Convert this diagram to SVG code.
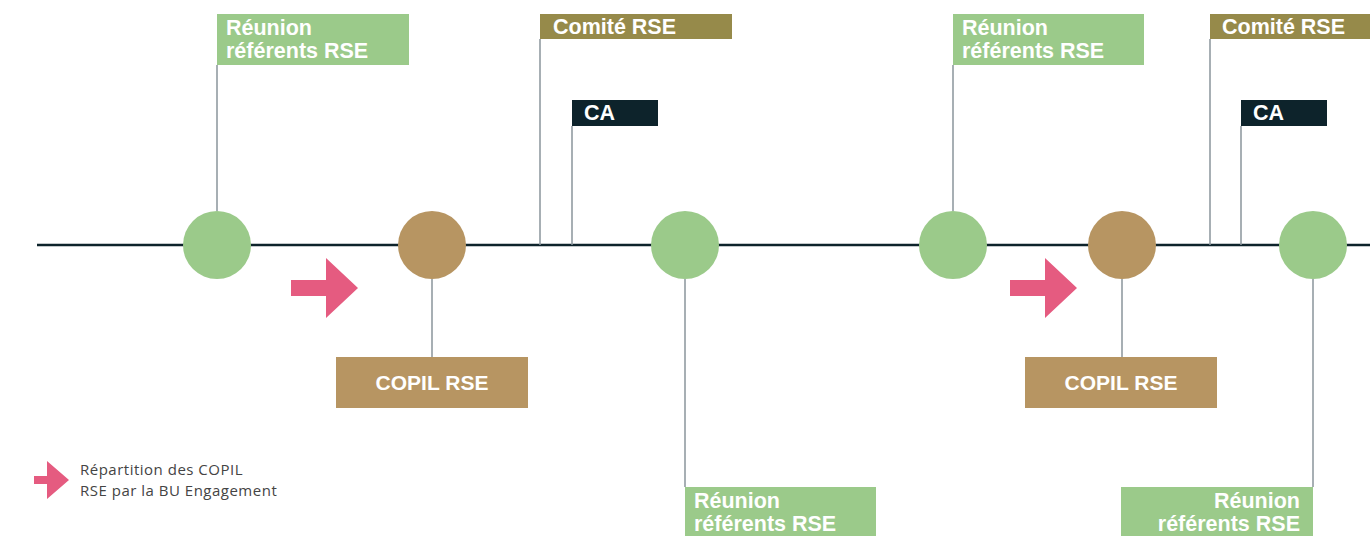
<svg xmlns="http://www.w3.org/2000/svg" width="1370" height="536" viewBox="0 0 1370 536">
<style>
.lbl{font-family:"Liberation Sans",Arial,sans-serif;font-weight:bold;font-size:21.5px;fill:#ffffff}
.cp{font-size:21px}
.leg{font-family:"Open Sans",Lato,sans-serif;font-size:15px;letter-spacing:0.5px;fill:#444444}
.stem{stroke:#8a959b;stroke-width:1.5;fill:none}
.green{fill:#9bca8a}
.tan{fill:#b79562}
.olive{fill:#968a4a}
.dark{fill:#0d232b}
.pink{fill:#e55b80}
</style>
<defs>
<polygon id="arr" points="0,-8 35,-8 35,-30 67,0 35,30 35,8 0,8"/>
</defs>
<rect width="1370" height="536" fill="#ffffff"/>
<g id="connectors">
<line x1="37" y1="245" x2="1370" y2="245" stroke="#0d232b" stroke-width="2.5"/>
<line class="stem" x1="217" y1="65" x2="217" y2="211"/>
<line class="stem" x1="540" y1="39" x2="540" y2="245"/>
<line class="stem" x1="572" y1="126" x2="572" y2="245"/>
<line class="stem" x1="432" y1="279" x2="432" y2="357"/>
<line class="stem" x1="685" y1="279" x2="685" y2="487"/>
<line class="stem" x1="953" y1="65" x2="953" y2="211"/>
<line class="stem" x1="1210" y1="39" x2="1210" y2="245"/>
<line class="stem" x1="1241" y1="126" x2="1241" y2="245"/>
<line class="stem" x1="1122" y1="279" x2="1122" y2="357"/>
<line class="stem" x1="1313" y1="279" x2="1313" y2="487" stroke="#2a3a40"/>
</g>
<g id="circles">
<circle class="green" cx="217" cy="245" r="34"/>
<circle class="tan" cx="432" cy="245" r="34"/>
<circle class="green" cx="685" cy="245" r="34"/>
<circle class="green" cx="953" cy="245" r="34"/>
<circle class="tan" cx="1122" cy="245" r="34"/>
<circle class="green" cx="1313" cy="245" r="34"/>
</g>
<g id="arrows">
<use href="#arr" class="pink" x="291" y="288"/>
<use href="#arr" class="pink" x="1010" y="288"/>
</g>
<g id="reunion1">
<rect class="green" x="217" y="14" width="192" height="51"/>
<text class="lbl" x="226" y="35">Réunion</text>
<text class="lbl" x="226" y="58">référents RSE</text>
</g>
<g id="comite1">
<rect class="olive" x="540" y="14" width="192" height="25"/>
<text class="lbl" x="553" y="34">Comité RSE</text>
</g>
<g id="ca1">
<rect class="dark" x="572" y="100" width="86" height="26"/>
<text class="lbl" x="584" y="120">CA</text>
</g>
<g id="copil1">
<rect class="tan" x="336" y="357" width="192" height="51"/>
<text class="lbl cp" x="432" y="390" text-anchor="middle">COPIL RSE</text>
</g>
<g id="reunion2">
<rect class="green" x="685" y="487" width="191" height="49"/>
<text class="lbl" x="694" y="508">Réunion</text>
<text class="lbl" x="694" y="531">référents RSE</text>
</g>
<g id="reunion3">
<rect class="green" x="953" y="14" width="191" height="51"/>
<text class="lbl" x="962" y="35">Réunion</text>
<text class="lbl" x="962" y="58">référents RSE</text>
</g>
<g id="comite2">
<rect class="olive" x="1210" y="14" width="160" height="25"/>
<text class="lbl" x="1222" y="34">Comité RSE</text>
</g>
<g id="ca2">
<rect class="dark" x="1241" y="100" width="86" height="26"/>
<text class="lbl" x="1253" y="120">CA</text>
</g>
<g id="copil2">
<rect class="tan" x="1025" y="357" width="192" height="51"/>
<text class="lbl cp" x="1121" y="390" text-anchor="middle">COPIL RSE</text>
</g>
<g id="reunion4">
<rect class="green" x="1121" y="487" width="192" height="49"/>
<text class="lbl" x="1300" y="508" text-anchor="end">Réunion</text>
<text class="lbl" x="1300" y="531" text-anchor="end">référents RSE</text>
</g>
<g id="legend">
<polygon class="pink" points="34,476 47,476 47,461 69,480 47,499 47,484 34,484"/>
<text class="leg" x="80" y="475">Répartition des COPIL</text>
<text class="leg" x="80" y="496">RSE par la BU Engagement</text>
</g>
</svg>
